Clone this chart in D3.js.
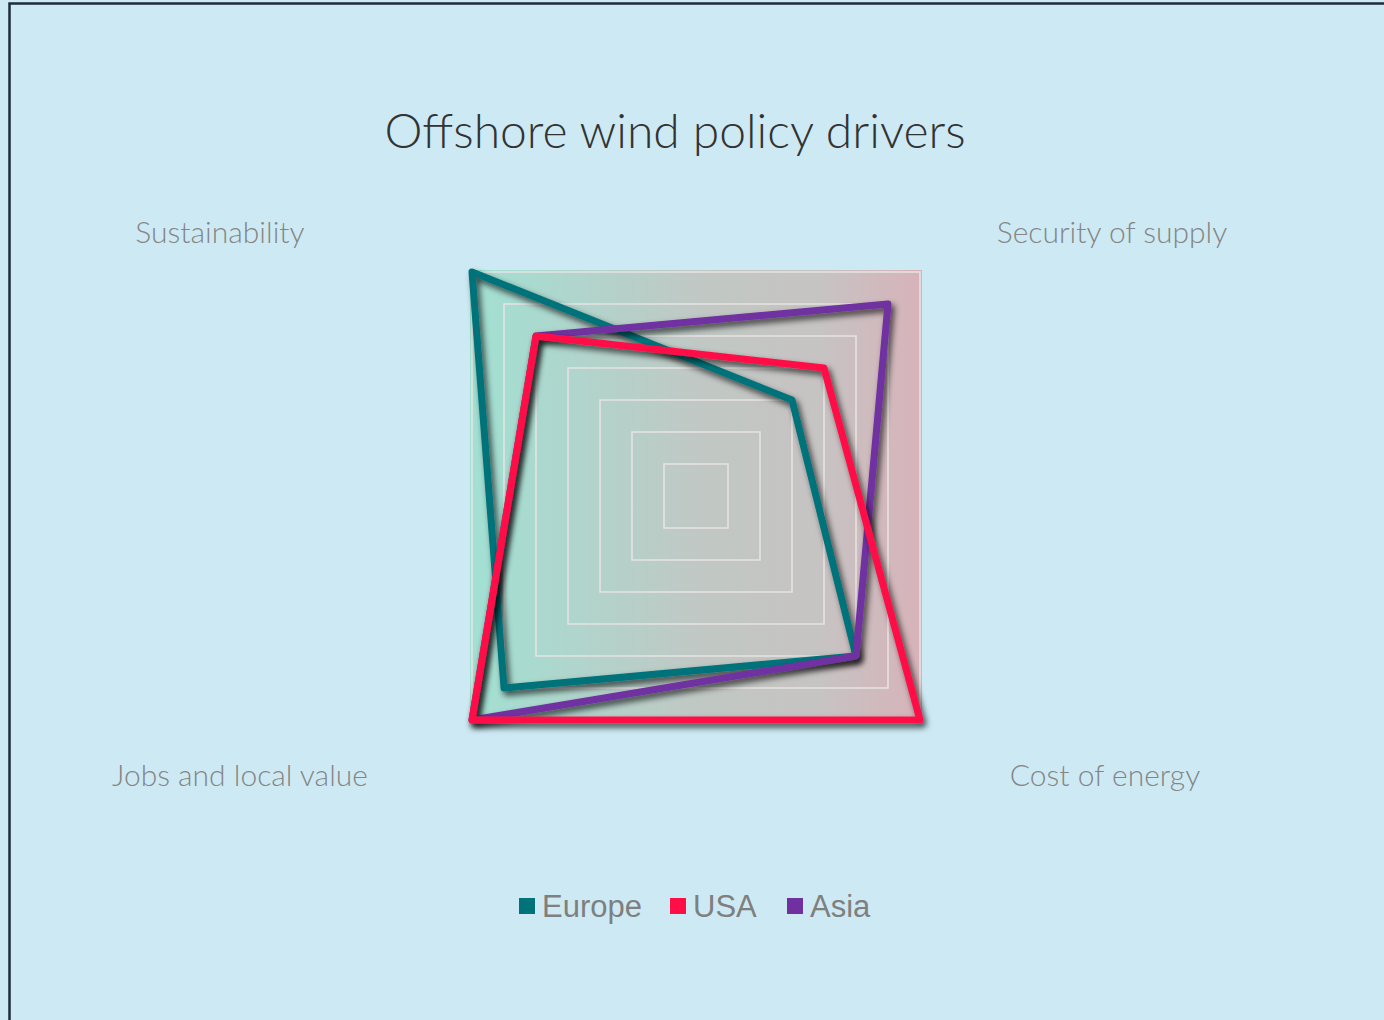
<!DOCTYPE html>
<html>
<head>
<meta charset="utf-8">
<script src="https://cdn.jsdelivr.net/npm/d3@7"></script>
<style>
  html, body { margin: 0; padding: 0; background: #cdeaf4; }
  svg { display: block; }
</style>
</head>
<body>
<svg id="chart" width="1384" height="1020"></svg>
<script>
var axes = ["Sustainability", "Security of supply", "Cost of energy", "Jobs and local value"];
var seriesNames = ["Europe", "USA", "Asia"];
var europe = [7, 3, 5, 6];
var usa = [5, 4, 7, 7];
var asia = [5, 6, 5, 7];
var levels = [1, 2, 3, 4, 5, 6, 7];
var colors = ["#00737a", "#ff0f47", "#7030a0"];

var svg = d3.select("#chart");
var cx = 696, cy = 496;

var rScale = d3.scaleLinear().domain([0, 7]).range([0, 224 * Math.SQRT2]);
var angle = function(i){ return -Math.PI / 4 + i * Math.PI / 2; };

function pt(v, i){
  var a = angle(i);
  return [cx + rScale(v) * Math.sin(a), cy - rScale(v) * Math.cos(a)];
}

var defs = svg.append("defs");
var grad = defs.append("linearGradient").attr("id", "bg").attr("x1", "0").attr("x2", "1").attr("y1", "0").attr("y2", "0");
grad.append("stop").attr("offset", "0").attr("stop-color", "#a2e0d3");
grad.append("stop").attr("offset", "0.5").attr("stop-color", "#c0c8c4");
grad.append("stop").attr("offset", "0.78").attr("stop-color", "#c7c3c3");
grad.append("stop").attr("offset", "1").attr("stop-color", "#d7b3b9");

var shadow = defs.append("filter").attr("id", "shadow")
  .attr("x", "-10%").attr("y", "-10%").attr("width", "130%").attr("height", "130%");
shadow.append("feDropShadow").attr("dx", 3).attr("dy", 4).attr("stdDeviation", 3.2)
  .attr("flood-color", "#000").attr("flood-opacity", 0.7);

// chart frame
svg.append("rect").attr("x", 9.5).attr("y", 3.5).attr("width", 1400).attr("height", 1040)
  .attr("fill", "#cdeaf4").attr("stroke", "#1e2b38").attr("stroke-width", 2.5);

// title
svg.append("text").attr("x", 675).attr("y", 148).attr("text-anchor", "middle")
  .attr("font-family", "Lato, 'Noto Sans', sans-serif").attr("font-weight", 300)
  .attr("font-size", 48).attr("fill", "#333333")
  .text("Offshore wind policy drivers");

var line = d3.line().curve(d3.curveLinearClosed);

// plot area fill
svg.append("path")
  .attr("d", line(axes.map(function(d, i){ return pt(7, i); })))
  .attr("fill", "url(#bg)")
  .attr("stroke", "url(#bg)").attr("stroke-width", 4);

// grid
svg.append("g").selectAll("path").data(levels).enter().append("path")
  .attr("d", function(l){ return line(axes.map(function(d, i){ return pt(l, i); })); })
  .attr("fill", "none").attr("stroke", "#e6e3e3").attr("stroke-width", 1.6);

// axis labels
svg.append("g").selectAll("text").data(axes).enter().append("text")
  .attr("x", function(d, i){
    var top = Math.cos(angle(i)) > 0;
    var lcx = top ? 666 : 672.5, lrx = top ? 446 : 432.5;
    return lcx + lrx * Math.sign(Math.sin(angle(i)));
  })
  .attr("y", function(d, i){ return 503.5 - 271.5 * Math.sign(Math.cos(angle(i))); })
  .attr("dy", "0.35em")
  .attr("text-anchor", "middle")
  .attr("font-family", "Lato, 'Noto Sans', sans-serif").attr("font-weight", 300)
  .attr("font-size", 30).attr("fill", "#858585")
  .text(function(d){ return d; });

// series (draw order: Europe, Asia, USA)
var series = [
  {name: "Europe", values: europe, color: colors[0]},
  {name: "Asia", values: asia, color: colors[2]},
  {name: "USA", values: usa, color: colors[1]}
];
svg.append("g").selectAll("path").data(series).enter().append("path")
  .attr("d", function(s){ return line(s.values.map(pt)); })
  .attr("fill", "none")
  .attr("stroke", function(s){ return s.color; })
  .attr("stroke-width", 7)
  .attr("stroke-linejoin", "round")
  .attr("filter", "url(#shadow)");

// legend
var legendX = d3.scaleOrdinal().domain(seriesNames).range([519, 670, 787]);
var lg = svg.append("g").selectAll("g").data(seriesNames).enter().append("g")
  .attr("transform", function(d){ return "translate(" + legendX(d) + ",0)"; });
lg.append("rect").attr("x", 0).attr("y", 898).attr("width", 16).attr("height", 16)
  .attr("fill", function(d, i){ return colors[i]; });
lg.append("text").attr("x", 23).attr("y", 917)
  .attr("font-family", "'Liberation Sans', Arial, sans-serif")
  .attr("font-size", 31).attr("fill", "#7f7f7f")
  .text(function(d){ return d; });
</script>
</body>
</html>
